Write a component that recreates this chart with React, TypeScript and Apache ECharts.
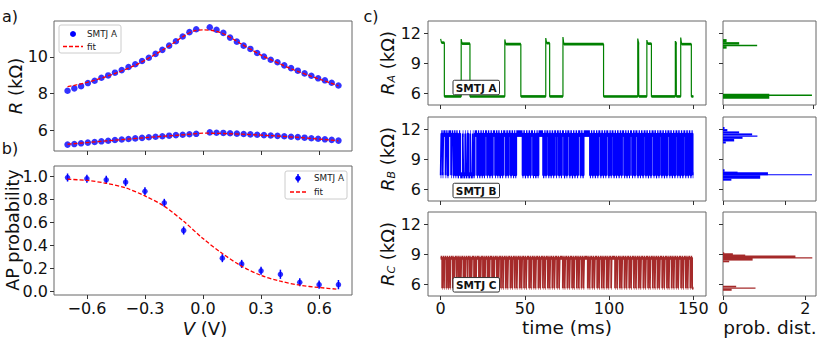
import React, { useEffect, useRef } from 'react';
import * as echarts from 'echarts';

const FONT = "'DejaVu Sans', sans-serif";

// ---------- panel a : R vs V ----------
const aVolt = [-0.7, -0.665, -0.63, -0.595, -0.56, -0.525, -0.49, -0.455, -0.42, -0.385, -0.35, -0.315, -0.28, -0.245, -0.21, -0.175, -0.14, -0.105, -0.07, -0.035,
  0.035, 0.07, 0.105, 0.14, 0.175, 0.21, 0.245, 0.28, 0.315, 0.35, 0.385, 0.42, 0.455, 0.49, 0.525, 0.56, 0.595, 0.63, 0.665, 0.7];
const aRAP = [8.15, 8.28, 8.40, 8.57, 8.70, 8.86, 8.99, 9.14, 9.28, 9.45, 9.60, 9.78, 9.96, 10.17, 10.39, 10.62, 10.86, 11.12, 11.36, 11.52,
  11.63, 11.49, 11.32, 11.06, 10.84, 10.62, 10.44, 10.22, 10.02, 9.85, 9.71, 9.54, 9.39, 9.25, 9.10, 8.97, 8.83, 8.72, 8.59, 8.44];
const aRP = [5.20, 5.23, 5.27, 5.31, 5.34, 5.38, 5.41, 5.45, 5.48, 5.51, 5.54, 5.57, 5.60, 5.63, 5.66, 5.69, 5.72, 5.74, 5.77, 5.79,
  5.87, 5.85, 5.84, 5.82, 5.80, 5.78, 5.76, 5.74, 5.72, 5.70, 5.68, 5.66, 5.63, 5.61, 5.58, 5.55, 5.52, 5.49, 5.46, 5.42];
const aFitVolt = [-0.7, -0.65, -0.6, -0.55, -0.5, -0.45, -0.4, -0.35, -0.3, -0.25, -0.2, -0.15, -0.1, -0.05, 0, 0.05, 0.1, 0.15, 0.2, 0.25, 0.3, 0.35, 0.4, 0.45, 0.5, 0.55, 0.6, 0.65, 0.7];
const aFitAP = [8.37, 8.48, 8.61, 8.76, 8.93, 9.12, 9.32, 9.55, 9.82, 10.12, 10.44, 10.78, 11.14, 11.42, 11.48, 11.45, 11.30, 11.02, 10.70, 10.40, 10.10, 9.85, 9.61, 9.38, 9.17, 8.98, 8.79, 8.61, 8.42];
const fitVolt10 = [-0.7, -0.6, -0.5, -0.4, -0.3, -0.2, -0.1, 0, 0.1, 0.2, 0.3, 0.4, 0.5, 0.6, 0.7];
const aFitP = [5.22, 5.31, 5.40, 5.49, 5.58, 5.66, 5.74, 5.83, 5.81, 5.77, 5.72, 5.66, 5.59, 5.50, 5.41];

// ---------- panel b : AP probability ----------
const bVolt = [-0.7, -0.6, -0.5, -0.4, -0.3, -0.2, -0.1, 0.1, 0.2, 0.3, 0.4, 0.5, 0.6, 0.7];
const bProb = [0.99, 0.98, 0.97, 0.95, 0.87, 0.77, 0.53, 0.29, 0.24, 0.18, 0.15, 0.08, 0.06, 0.06];
const bErr = [0.035, 0.035, 0.035, 0.035, 0.035, 0.035, 0.035, 0.035, 0.035, 0.035, 0.04, 0.035, 0.035, 0.04];
const bFit = [0.975, 0.965, 0.94, 0.90, 0.83, 0.74, 0.61, 0.46, 0.33, 0.22, 0.14, 0.09, 0.055, 0.035, 0.02];

// ---------- panel c : telegraph signals ----------
const tEnd = 150;
// SMTJ A: starts high, switch times (ms)
const aSwitch = [2.2, 12.2, 17.4, 38.1, 47.6, 62.4, 64.7, 72.6, 96.7, 117.0, 117.6, 122.4, 125.1, 139.3, 139.9, 142.5, 148.8];
const aHighLevel = [11.05, 10.95, 10.9, 11.0, 10.9, 11.0, 10.95, 11.0, 10.9];
const aPeak = [11.43, 11.4, 11.37, 11.5, 11.6, 11.45, 11.3, 11.2, 11.55];
const aLow = 5.7;
// SMTJ B: starts low
const bSwitch = [0.4, 1.2, 1.6, 2.9, 3.3, 4.1, 4.6, 6.2, 6.6, 7.5, 8.0, 8.8, 9.3, 10.1, 10.9, 11.6, 13.1, 13.5, 14.6, 15.0, 15.9, 16.4, 17.6, 18.0, 19.1, 19.5, 20.2, 21.6, 22.1, 22.9,
  23.6, 24.4, 25.0, 25.7, 26.3, 27.5, 28.0, 28.9, 29.6, 30.4, 31.0, 32.3, 32.8, 33.7, 34.2, 35.0, 35.8, 36.5, 37.1, 38.4, 39.0, 39.9, 40.4, 41.5, 42.1, 43.0, 43.6, 44.3, 44.9, 48.6,
  49.1, 50.0, 50.7, 51.5, 52.2, 53.1, 53.6, 54.8, 55.4, 56.1, 56.9, 57.6, 58.1, 60.8, 61.5, 62.3, 62.8, 63.9, 64.5, 65.3, 65.9, 66.8, 67.4, 68.5, 69.0, 70.1, 70.6, 71.4, 72.0, 73.2,
  73.9, 74.7, 75.2, 76.4, 77.0, 77.9, 78.6, 79.4, 80.1, 81.0, 81.6, 82.9, 83.4, 84.2, 84.9, 88.6, 89.2, 90.0, 90.6, 91.5, 92.2, 93.0, 93.6, 94.8, 95.4, 96.3, 96.9, 97.8, 98.3, 99.5,
  100.2, 101.0, 101.5, 102.6, 103.3, 104.1, 104.7, 105.6, 106.3, 107.2, 107.7, 108.9, 109.5, 110.3, 111.0, 111.8, 112.4, 113.6, 114.2, 115.1, 115.6, 116.8, 117.5, 118.3, 118.9,
  119.8, 120.5, 121.6, 122.1, 123.0, 123.7, 124.5, 125.2, 126.4, 126.9, 127.8, 128.5, 129.3, 129.9, 131.0, 131.6, 132.5, 133.2, 134.0, 134.6, 135.8, 136.3, 137.2, 137.9, 138.7,
  139.4, 140.5, 141.0, 141.9, 142.6, 143.4, 144.1, 145.2, 145.8, 146.7, 147.3, 148.2, 148.9, 149.6];
const bHigh = 11.55;
const bLow = 7.4;
// SMTJ C: starts high
const cSwitch = [0.9, 1.2, 2.0, 2.3, 3.4, 3.7, 4.5, 4.9, 5.6, 5.9, 7.2, 7.5, 8.1, 8.5, 9.6, 9.9, 10.8, 11.1, 11.9, 12.3, 13.5, 13.8, 14.4, 14.8, 15.9, 16.2, 17.3, 17.6, 18.2, 18.6,
  19.8, 20.1, 20.9, 21.3, 22.7, 23.0, 23.6, 24.0, 25.1, 25.4, 26.2, 26.6, 27.8, 28.1, 28.9, 29.2, 30.5, 30.8, 31.6, 32.0, 33.3, 33.6, 34.3, 34.7, 35.8, 36.1, 37.0, 37.4, 38.6, 38.9,
  39.7, 40.1, 41.4, 41.7, 42.5, 42.9, 44.0, 44.3, 45.2, 45.6, 46.9, 47.2, 48.0, 48.4, 49.5, 49.8, 50.7, 51.1, 52.5, 52.8, 53.6, 54.0, 55.2, 55.5, 56.3, 56.7, 58.0, 58.3, 59.1, 59.5,
  60.7, 61.0, 61.9, 62.3, 63.6, 63.9, 64.7, 65.1, 66.3, 66.6, 67.5, 67.9, 69.1, 69.4, 70.3, 70.7, 72.5, 72.8, 73.6, 74.0, 75.2, 75.5, 76.4, 76.8, 78.0, 78.3, 79.1, 79.5, 80.8, 81.1,
  82.0, 82.4, 83.6, 83.9, 84.8, 85.2, 87.3, 87.6, 88.4, 88.8, 90.0, 90.3, 91.2, 91.6, 92.9, 93.2, 94.0, 94.4, 95.6, 95.9, 96.8, 97.2, 98.5, 98.8, 99.6, 100.0, 101.2, 101.5, 103.5,
  103.8, 104.7, 105.1, 106.3, 106.6, 107.4, 107.8, 109.1, 109.4, 110.3, 110.7, 111.9, 112.2, 113.0, 113.4, 114.7, 115.0, 115.9, 116.3, 117.5, 117.8, 118.6, 119.0, 120.3, 120.6,
  121.5, 121.9, 123.1, 123.4, 124.2, 124.6, 125.9, 126.2, 127.1, 127.5, 128.7, 129.0, 129.8, 130.2, 131.5, 131.8, 132.7, 133.1, 134.3, 134.6, 135.4, 135.8, 137.1, 137.4, 138.3,
  138.7, 139.9, 140.2, 141.0, 141.4, 142.7, 143.0, 143.9, 144.3, 145.5, 145.8, 146.6, 147.0, 148.2, 148.5, 149.3];
const cHigh = 8.65;
const cLow = 5.62;

// ---------- histograms: [R low, R high, density] ----------
const histA = [[11.1, 11.4, 0.08], [10.85, 11.1, 0.36], [10.7, 10.85, 0.76], [10.45, 10.7, 0.08],
  [5.47, 5.97, 1.03], [5.75, 5.9, 1.98]];
const histB = [[12.0, 12.2, 0.05], [11.77, 12.0, 0.14], [11.57, 11.77, 0.52], [11.37, 11.57, 0.94], [11.23, 11.37, 1.11], [11.03, 11.23, 0.63], [10.77, 11.03, 0.36], [10.57, 10.77, 0.09],
  [7.77, 8.0, 0.05], [7.6, 7.77, 0.47], [7.42, 7.7, 1.45], [7.4, 7.52, 2.87], [7.07, 7.4, 1.2], [6.87, 7.07, 0.27]];
const histC = [[9.03, 9.2, 0.03], [8.9, 9.1, 0.24], [8.7, 8.97, 0.54], [8.63, 8.87, 1.76], [8.57, 8.7, 2.17], [8.37, 8.63, 0.72], [8.2, 8.37, 0.15],
  [5.7, 5.87, 0.32], [5.57, 5.7, 0.79], [5.37, 5.57, 0.21]];

// tick values
const aYTicks = [6, 8, 10];
const vTicks = [-0.6, -0.3, 0, 0.3, 0.6];
const bYTicks = [0, 0.2, 0.4, 0.6, 0.8, 1.0];
const tTicks = [0, 50, 100, 150];
const rTicks = [6, 9, 12];
const pTicks = [0, 2];

function stepSignal(sw: number[], startHigh: boolean, hi: number, lo: number) {
  const times = [0, ...sw, tEnd];
  const pts: number[][] = [];
  const bands: number[][] = [];
  let high = startHigh;
  for (let i = 0; i < times.length - 1; i++) {
    const l = high ? hi : lo;
    pts.push([times[i], l], [times[i + 1], l]);
    bands.push([times[i], times[i + 1], l, high ? 1 : 0]);
    high = !high;
  }
  return { pts, bands };
}

function signalA() {
  const times = [0, ...aSwitch, tEnd];
  const pts: number[][] = [];
  const bands: number[][] = [];
  let high = true;
  let k = 0;
  for (let i = 0; i < times.length - 1; i++) {
    const t0 = times[i], t1 = times[i + 1];
    if (high) {
      const l = aHighLevel[k], p = aPeak[k];
      k++;
      pts.push([t0, p], [Math.min(t0 + 0.5, t1), l], [t1, l]);
      bands.push([Math.min(t0 + 0.5, t1), t1, l, 1]);
    } else {
      pts.push([t0, aLow], [t1, aLow]);
      bands.push([t0, t1, aLow, 0]);
    }
    high = !high;
  }
  return { pts, bands };
}

const fmtMinus = (v: number, d: number) => {
  const s = Math.abs(v) < 1e-9 ? (0).toFixed(d) : v.toFixed(d);
  return s.replace('-', '\u2212');
};

function axis(gridIndex: number, min: number, max: number, ticks: number[], showLabel: boolean, extra: any = {}) {
  return {
    type: 'value', gridIndex, min, max,
    axisLine: { show: false, onZero: false },
    splitLine: { show: false },
    axisTick: { show: true, length: 4, lineStyle: { color: '#333', width: 1 }, customValues: ticks },
    axisLabel: { show: showLabel, customValues: ticks, fontSize: 16, color: '#111', fontFamily: FONT, margin: 6, ...(extra.label || {}) },
    ...(extra.axis || {}),
  };
}

function bandSeries(xi: number, bands: number[][], color: string, dHi: number, dLo: number) {
  return {
    type: 'custom', xAxisIndex: xi, yAxisIndex: xi, clip: true, silent: true,
    encode: { x: [0, 1], y: 2 },
    data: bands,
    renderItem: (params: any, api: any) => {
      const d = api.value(3) ? dHi : dLo;
      const p0 = api.coord([api.value(0), api.value(2) + d]);
      const p1 = api.coord([api.value(1), api.value(2) - d]);
      return { type: 'rect', shape: { x: p0[0], y: p0[1], width: Math.max(p1[0] - p0[0], 0.5), height: p1[1] - p0[1] }, style: { fill: color } };
    },
  };
}

function histSeries(xi: number, bins: number[][], color: string) {
  return {
    type: 'custom', xAxisIndex: xi, yAxisIndex: xi, clip: true, silent: true,
    encode: { x: 2, y: [0, 1] },
    data: bins,
    renderItem: (params: any, api: any) => {
      const p0 = api.coord([0, api.value(1)]);
      const p1 = api.coord([api.value(2), api.value(0)]);
      return { type: 'rect', shape: { x: p0[0], y: p0[1], width: p1[0] - p0[0], height: Math.max(p1[1] - p0[1], 1) }, style: { fill: color } };
    },
  };
}

function buildOption() {
  const sA = signalA();
  const sB = stepSignal(bSwitch, false, bHigh, bLow);
  const sC = stepSignal(cSwitch, true, cHigh, cLow);
  const gridStyle = { show: true, borderColor: '#666', borderWidth: 1, backgroundColor: 'transparent' };
  const grids = [
    { left: 54, top: 21, width: 298, height: 130 },
    { left: 54, top: 166, width: 298, height: 129 },
    { left: 428, top: 21, width: 278, height: 84 },
    { left: 428, top: 117, width: 278, height: 84 },
    { left: 428, top: 212, width: 278, height: 84 },
    { left: 723, top: 21, width: 93, height: 84 },
    { left: 723, top: 117, width: 93, height: 84 },
    { left: 723, top: 212, width: 93, height: 84 },
  ].map((g) => ({ ...g, ...gridStyle }));

  const vFmt = { label: { formatter: (v: number) => fmtMinus(v, 1), margin: 5, lineHeight: 16 } };
  const xAxis = [
    axis(0, -0.77, 0.77, vTicks, false),
    axis(1, -0.77, 0.77, vTicks, true, vFmt),
    axis(2, -7.5, 157.5, tTicks, false),
    axis(3, -7.5, 157.5, tTicks, false),
    axis(4, -7.5, 157.5, tTicks, true, { label: { margin: 4 } }),
    axis(5, 0, 2.07, pTicks, false),
    axis(6, 0, 3.0, pTicks, false),
    axis(7, 0, 2.26, pTicks, true, { label: { margin: 4 } }),
  ];
  const yAxis = [
    axis(0, 4.85, 11.97, aYTicks, true),
    axis(1, -0.03, 1.09, bYTicks, true, { label: { formatter: (v: number) => v.toFixed(1) } }),
    axis(2, 4.85, 13.2, rTicks, true, { label: { margin: 7 } }),
    axis(3, 4.85, 13.2, rTicks, true, { label: { margin: 7 } }),
    axis(4, 4.85, 13.2, rTicks, true, { label: { margin: 7 } }),
    axis(5, 4.85, 13.2, rTicks, false),
    axis(6, 4.85, 13.2, rTicks, false),
    axis(7, 4.85, 13.2, rTicks, false),
  ];

  const dash = { color: '#ff0000', type: [4, 2] as any, width: 1.3 };
  const series: any[] = [
    { type: 'scatter', xAxisIndex: 0, yAxisIndex: 0, symbolSize: 6.5, itemStyle: { color: '#0000ff' }, data: aVolt.map((v, i) => [v, aRAP[i]]), z: 2 },
    { type: 'scatter', xAxisIndex: 0, yAxisIndex: 0, symbolSize: 6.5, itemStyle: { color: '#0000ff' }, data: aVolt.map((v, i) => [v, aRP[i]]), z: 2 },
    { type: 'line', xAxisIndex: 0, yAxisIndex: 0, showSymbol: false, smooth: 0.3, lineStyle: dash, data: aFitVolt.map((v, i) => [v, aFitAP[i]]), z: 3 },
    { type: 'line', xAxisIndex: 0, yAxisIndex: 0, showSymbol: false, lineStyle: dash, data: fitVolt10.map((v, i) => [v, aFitP[i]]), z: 3 },
    {
      type: 'custom', xAxisIndex: 1, yAxisIndex: 1, encode: { x: 0, y: [1, 2] },
      data: bVolt.map((v, i) => [v, bProb[i] - bErr[i], bProb[i] + bErr[i]]),
      renderItem: (params: any, api: any) => {
        const a = api.coord([api.value(0), api.value(1)]);
        const b = api.coord([api.value(0), api.value(2)]);
        return { type: 'line', shape: { x1: a[0], y1: a[1], x2: b[0], y2: b[1] }, style: { stroke: '#0000ff', lineWidth: 1.5 } };
      },
    },
    { type: 'scatter', xAxisIndex: 1, yAxisIndex: 1, symbolSize: 5.5, itemStyle: { color: '#0000ff' }, data: bVolt.map((v, i) => [v, bProb[i]]), z: 2 },
    { type: 'line', xAxisIndex: 1, yAxisIndex: 1, showSymbol: false, smooth: 0.3, lineStyle: dash, data: fitVolt10.map((v, i) => [v, bFit[i]]), z: 3 },

    bandSeries(2, sA.bands, '#008000', 0.13, 0.13),
    { type: 'line', xAxisIndex: 2, yAxisIndex: 2, showSymbol: false, lineStyle: { color: '#008000', width: 1.2 }, data: sA.pts },
    bandSeries(3, sB.bands, '#0000ff', 0.33, 0.3),
    { type: 'line', xAxisIndex: 3, yAxisIndex: 3, showSymbol: false, lineStyle: { color: '#0000ff', width: 1.7 }, data: sB.pts },
    bandSeries(4, sC.bands, '#a52a2a', 0.2, 0.15),
    { type: 'line', xAxisIndex: 4, yAxisIndex: 4, showSymbol: false, lineStyle: { color: '#a52a2a', width: 1.7 }, data: sC.pts },

    histSeries(5, histA, '#008000'),
    histSeries(6, histB, '#0000ff'),
    histSeries(7, histC, '#a52a2a'),
  ];

  const t = (text: string, x: number, y: number, size: number, extra: any = {}) => ({
    type: 'text', x, y, z: 100,
    style: { text, fontSize: size, fontFamily: FONT, fill: '#111', align: 'center', verticalAlign: 'middle', ...extra },
  });
  const rot = Math.PI / 2;
  const richR = {
    i: { fontStyle: 'italic', fontSize: 18, fontFamily: FONT, lineHeight: 20, verticalAlign: 'middle' },
    s: { fontStyle: 'italic', fontSize: 11, fontFamily: FONT, lineHeight: 8, verticalAlign: 'bottom' },
    n: { fontSize: 18, fontFamily: FONT, lineHeight: 20 },
  };
  const richV = {
    i: { fontStyle: 'italic', fontSize: 18, fontFamily: FONT, lineHeight: 17 },
    n: { fontSize: 18, fontFamily: FONT, lineHeight: 17 },
  };
  const ylab = (sub: string, x: number, y: number) => ({
    type: 'text', x, y, rotation: rot, z: 100,
    style: { text: `{i|R}{s|${sub}}{n| (k\u03a9)}`, rich: richR, fill: '#111', align: 'center', verticalAlign: 'middle', fontFamily: FONT, fontSize: 18 },
  });
  const smtjBox = (label: string, cy: number) => ([
    { type: 'rect', z: 100, shape: { x: 453, y: cy - 7.25, width: 46.5, height: 14.5, r: 1.5 }, style: { fill: '#fff', stroke: '#333', lineWidth: 1 } },
    t(label, 476.2, cy + 0.3, 10.5, { fontWeight: 'bold' }),
  ]);

  const graphic: any[] = [
    t('a)', 10, 16, 16), t('b)', 10, 148, 16), t('c)', 371, 16, 16),
    {
      type: 'text', x: 15, y: 86, rotation: rot, z: 100,
      style: { text: '{i|R}{n| (k\u03a9)}', rich: richR, fill: '#111', align: 'center', verticalAlign: 'middle', fontFamily: FONT, fontSize: 18 },
    },
    { ...t('AP probability', 13, 230, 17.5), rotation: rot },
    {
      type: 'text', x: 205, y: 328, z: 100,
      style: { text: '{i|V}{n| (V)}', rich: richV, fill: '#111', align: 'center', verticalAlign: 'middle', fontFamily: FONT, fontSize: 18 },
    },
    ylab('A', 387, 63), ylab('B', 387, 159), ylab('C', 387, 254),
    t('time (ms)', 567, 327, 18.5), t('prob. dist.', 770, 327, 18.5),
    // legend a
    { type: 'rect', z: 100, shape: { x: 59, y: 25, width: 62, height: 28, r: 2 }, style: { fill: 'rgba(255,255,255,0.85)', stroke: '#cccccc', lineWidth: 1 } },
    { type: 'circle', z: 101, shape: { cx: 73, cy: 34, r: 3 }, style: { fill: '#0000ff' } },
    t('SMTJ A', 87, 34, 8.8, { align: 'left', fill: '#222' }),
    { type: 'line', z: 101, shape: { x1: 63, y1: 46.5, x2: 83, y2: 46.5 }, style: { stroke: '#ff0000', lineWidth: 1.3, lineDash: [4, 2] } },
    t('fit', 87, 46.5, 8.8, { align: 'left', fill: '#222' }),
    // legend b
    { type: 'rect', z: 100, shape: { x: 285, y: 171, width: 62, height: 28, r: 2 }, style: { fill: 'rgba(255,255,255,0.85)', stroke: '#cccccc', lineWidth: 1 } },
    { type: 'line', z: 101, shape: { x1: 298, y1: 174, x2: 298, y2: 182.5 }, style: { stroke: '#0000ff', lineWidth: 1.5 } },
    { type: 'circle', z: 101, shape: { cx: 298, cy: 178.3, r: 2.7 }, style: { fill: '#0000ff' } },
    t('SMTJ A', 314, 178.3, 8.8, { align: 'left', fill: '#222' }),
    { type: 'line', z: 101, shape: { x1: 290, y1: 192, x2: 306, y2: 192 }, style: { stroke: '#ff0000', lineWidth: 1.3, lineDash: [4, 2] } },
    t('fit', 314, 192, 8.8, { align: 'left', fill: '#222' }),
    ...smtjBox('SMTJ A', 87.5), ...smtjBox('SMTJ B', 190.5), ...smtjBox('SMTJ C', 284.8),
  ];

  return { animation: false, backgroundColor: '#fff', grid: grids, xAxis, yAxis, series, graphic };
}

export default function App() {
  const ref = useRef<HTMLDivElement>(null);
  useEffect(() => {
    const chart = echarts.init(ref.current!, null, { renderer: 'svg' });
    chart.setOption(buildOption() as any);
    return () => chart.dispose();
  }, []);
  return <div ref={ref} style={{ position: 'fixed', left: 0, top: 0, width: 823, height: 348, background: '#fff' }} />;
}
